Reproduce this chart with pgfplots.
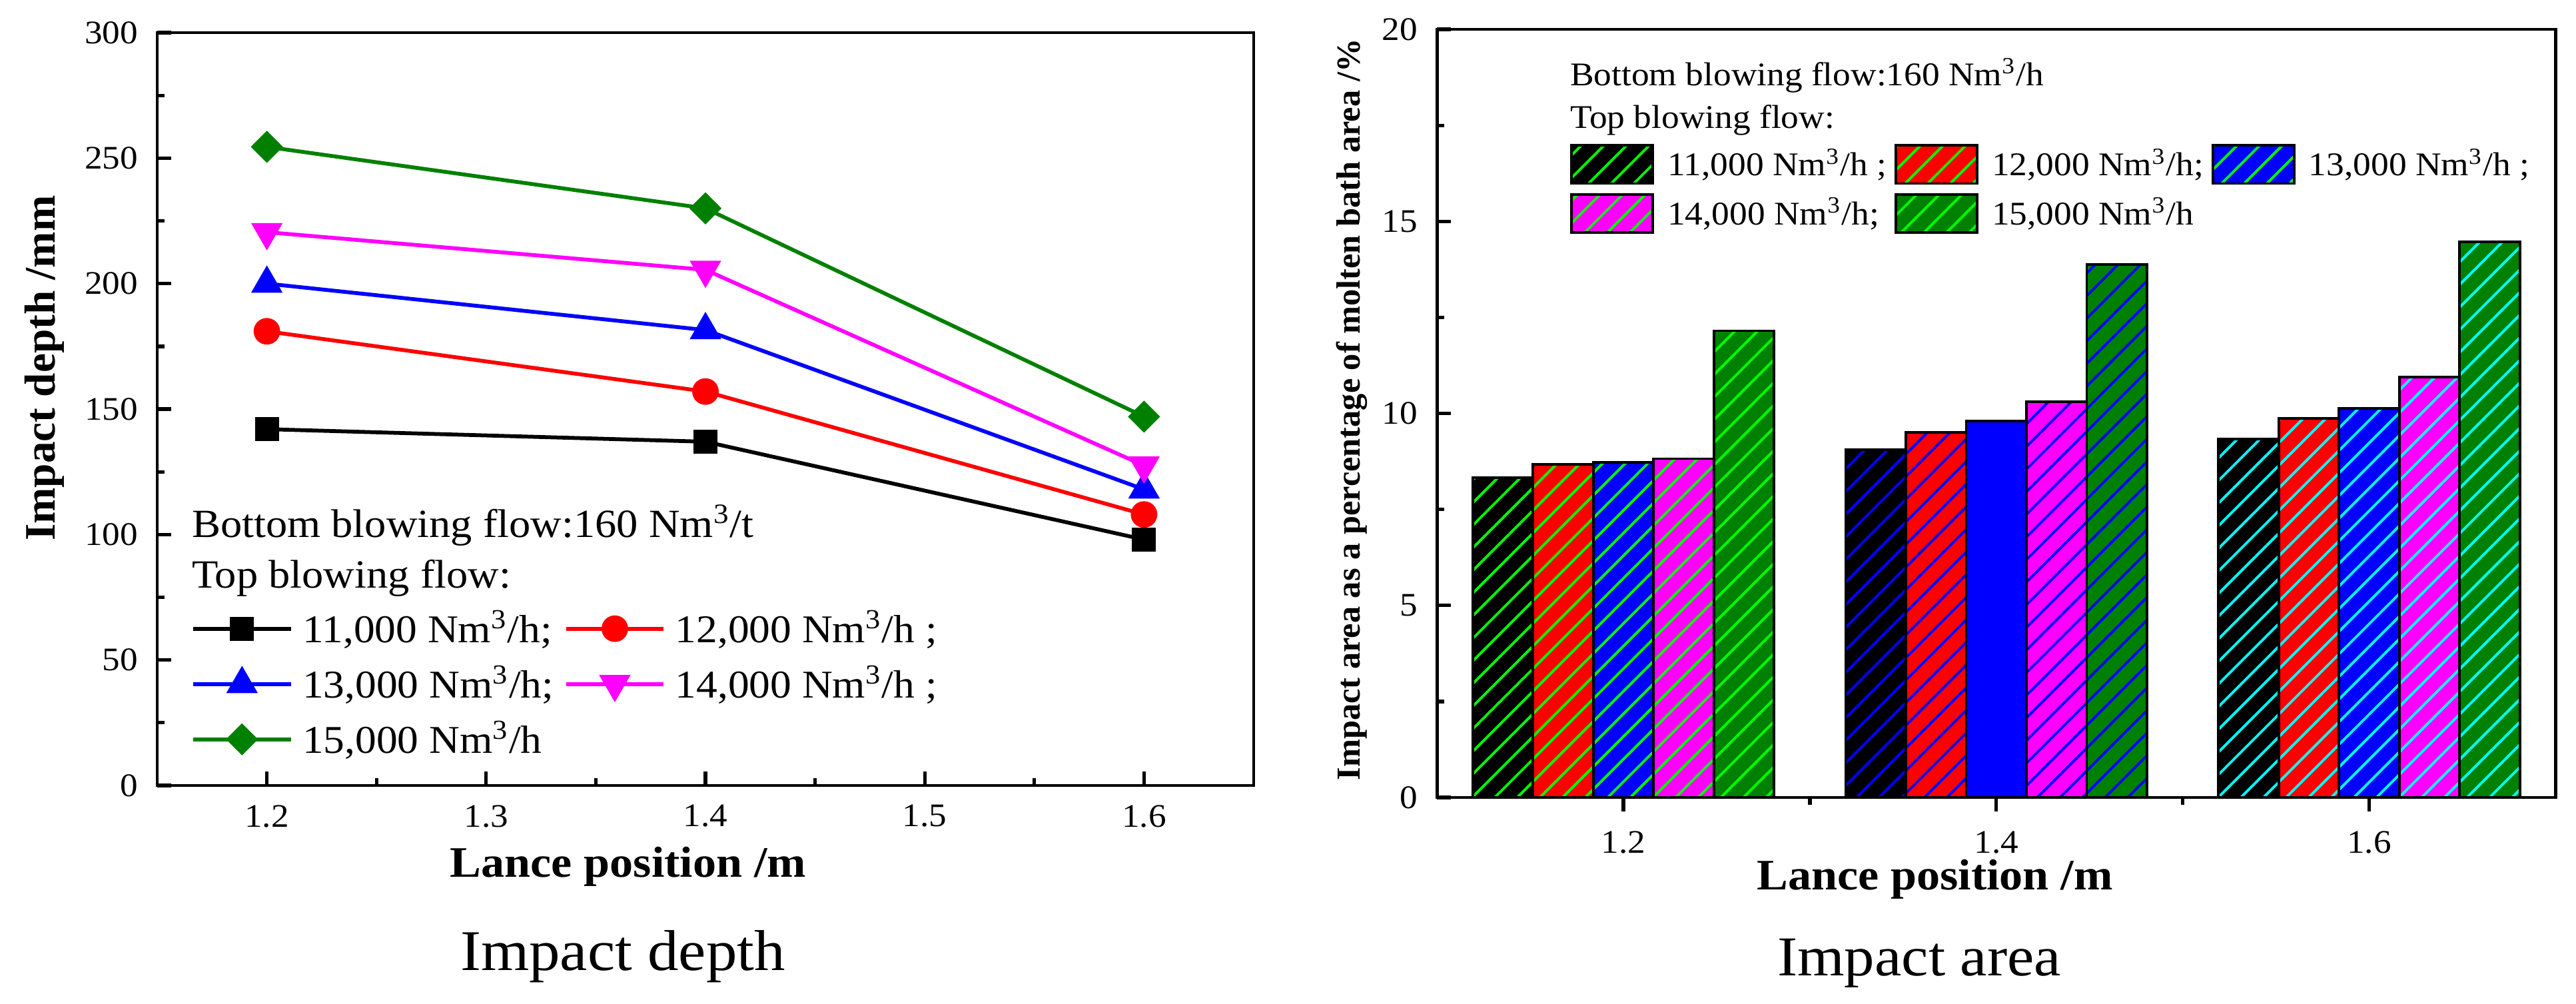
\documentclass[border=0pt]{standalone}
\usepackage{fontspec}
\setmainfont{Liberation Serif}[FakeStretch=1.075]
\newfontfamily\rotfont{Liberation Serif}
\usepackage{pgfplots}
\pgfplotsset{compat=1.18}
\usetikzlibrary{patterns.meta}
\definecolor{lgreen}{RGB}{0,255,0}
\definecolor{dgreen}{RGB}{0,128,0}
\definecolor{pblue}{RGB}{0,0,255}
\definecolor{pcyan}{RGB}{0,255,255}
\definecolor{pmag}{RGB}{255,0,255}
\definecolor{pred}{RGB}{255,0,0}
\tikzset{hatch/.style={postaction={pattern={Lines[angle=45,distance=5pt,line width=0.8pt]},pattern color=#1}}}
\pgfplotsset{
  common/.style={scale only axis, axis line style={line width=1pt}, tick align=inside, tick pos=left,
    major tick length=4.4pt, minor tick length=2.2pt, every tick/.style={line width=1.1pt, black},
    /pgf/number format/assume math mode=true,
    tick label style={font=\fontsize{10.3}{12}\selectfont, inner sep=0pt},
    xticklabel style={yshift=-5.9pt}, yticklabel style={xshift=-5.9pt}},
}
\begin{document}
\begin{tikzpicture}
\path[use as bounding box] (0,0) rectangle (805.6pt,313.75pt);
\begin{axis}[common, at={(49.17pt,68.13pt)}, anchor=south west, width=342.9pt, height=235.4pt,
  xmin=1.15, xmax=1.65, ymin=0, ymax=300, xtick={1.2,1.3,1.4,1.5,1.6}, ytick={0,50,...,300},
  minor x tick num=1, minor y tick num=1,
  xlabel={Lance position /m}, ylabel={Impact depth /mm},
  xlabel style={at={(axis description cs:0.4295,-0.1221)}, anchor=base, inner sep=0pt, font=\fontsize{13.6}{16}\selectfont\bfseries},
  ylabel style={at={(axis description cs:-0.0930,0.5544)}, anchor=base, inner sep=0pt, font=\rotfont\bfseries\fontsize{13.6}{16}\selectfont},
  legend style={draw=none, fill=none, at={(axis description cs:0.0304,0.2372)}, anchor=north west, inner sep=0pt,
    row sep=4.1pt, font=\fontsize{12.3}{15}\selectfont, nodes={inner sep=0pt, text height=11pt, text depth=2.2pt},
    /tikz/every odd column/.append style={column sep=3pt}, /tikz/every even column/.append style={column sep=3.2pt}},
  legend columns=2, legend cell align=left,
  legend image code/.code={\draw[mark repeat=2,mark phase=2,#1] plot coordinates {(0pt,0pt) (15.3pt,0pt) (30.6pt,0pt)};},
]
\addplot[black, line width=1.2pt, mark=square*, mark size=3.6pt, mark options={line width=0.3pt}] coordinates {(1.2,142) (1.4,137) (1.6,98)};
\addlegendentry{11,000 Nm\textsuperscript{3}/h;}
\addplot[pred, line width=1.2pt, mark=*, mark size=4pt, mark options={line width=0.3pt}] coordinates {(1.2,181) (1.4,157) (1.6,108)};
\addlegendentry{12,000 Nm\textsuperscript{3}/h ;}
\addplot[pblue, line width=1.2pt, mark=triangle*, mark size=5.4pt, mark options={line width=0.3pt}] coordinates {(1.2,200) (1.4,181.5) (1.6,118)};
\addlegendentry{13,000 Nm\textsuperscript{3}/h;}
\addplot[pmag, line width=1.2pt, mark=triangle*, mark size=5.4pt, mark options={line width=0.3pt, rotate=180}] coordinates {(1.2,220.5) (1.4,205.5) (1.6,127.5)};
\addlegendentry{14,000 Nm\textsuperscript{3}/h ;}
\addplot[dgreen, line width=1.2pt, mark=square*, mark size=3.4pt, mark options={line width=0.3pt, rotate=45}] coordinates {(1.2,254.5) (1.4,230) (1.6,147)};
\addlegendentry{15,000 Nm\textsuperscript{3}/h}
\node[anchor=base west, inner sep=0pt, font=\fontsize{12.5}{15}\selectfont] at (rel axis cs:0.031,0.3301) {Bottom blowing flow:160 Nm\textsuperscript{3}/t};
\node[anchor=base west, inner sep=0pt, font=\fontsize{12.5}{15}\selectfont] at (rel axis cs:0.031,0.2628) {Top blowing flow:};
\end{axis}

\begin{axis}[common, axis on top, at={(449.4pt,64.38pt)}, anchor=south west, width=349.8pt, height=240.2pt,
  xmin=-0.5, xmax=2.5, ymin=0, ymax=20, xtick={0,1,2}, xticklabels={1.2,1.4,1.6}, ytick={0,5,...,20},
  minor x tick num=1, minor y tick num=1,
  ybar, bar width=0.1617,
  xlabel={Lance position /m}, ylabel={Impact area as a percentage of molten bath area /\%},
  xlabel style={at={(axis description cs:0.445,-0.1203)}, anchor=base, inner sep=0pt, font=\fontsize{13.6}{16}\selectfont\bfseries},
  ylabel style={at={(axis description cs:-0.0691,0.5048)}, anchor=base, inner sep=0pt, font=\rotfont\bfseries\fontsize{10.5}{12}\selectfont},
  legend style={draw=none, fill=none, at={(axis description cs:0.1185,0.8517)}, anchor=north west, inner sep=0pt,
    row sep=2.6pt, font=\fontsize{10.35}{12}\selectfont, nodes={inner sep=0pt, text height=9pt, text depth=2pt},
    /tikz/every odd column/.append style={column sep=4.2pt}, /tikz/every even column/.append style={column sep=2.5pt}},
  legend columns=3, legend cell align=left,
  legend image code/.code={\draw[#1, draw=black, line width=0.8pt] (0pt,-6pt) rectangle (25.4pt,6pt);},
]
% group 1.2
\addplot[fill=black, draw=black, line width=0.8pt, bar shift=-0.3234, hatch=lgreen] coordinates {(0,8.32)};
\addlegendentry{11,000 Nm\textsuperscript{3}/h ;}
\addplot[fill=pred, draw=black, line width=0.8pt, bar shift=-0.1617, hatch=lgreen] coordinates {(0,8.68)};
\addlegendentry{12,000 Nm\textsuperscript{3}/h;}
\addplot[fill=pblue, draw=black, line width=0.8pt, bar shift=0, hatch=lgreen] coordinates {(0,8.73)};
\addlegendentry{13,000 Nm\textsuperscript{3}/h ;}
\addplot[fill=pmag, draw=black, line width=0.8pt, bar shift=0.1617, hatch=lgreen] coordinates {(0,8.82)};
\addlegendentry{14,000 Nm\textsuperscript{3}/h;}
\addplot[fill=dgreen, draw=black, line width=0.8pt, bar shift=0.3234, hatch=lgreen] coordinates {(0,12.15)};
\addlegendentry{15,000 Nm\textsuperscript{3}/h}
% group 1.4
\addplot[forget plot, fill=black, draw=black, line width=0.8pt, bar shift=-0.3234, hatch=pblue] coordinates {(1,9.05)};
\addplot[forget plot, fill=pred, draw=black, line width=0.8pt, bar shift=-0.1617, hatch=pblue] coordinates {(1,9.50)};
\addplot[forget plot, fill=pblue, draw=black, line width=0.8pt, bar shift=0, hatch=pblue] coordinates {(1,9.80)};
\addplot[forget plot, fill=pmag, draw=black, line width=0.8pt, bar shift=0.1617, hatch=pblue] coordinates {(1,10.30)};
\addplot[forget plot, fill=dgreen, draw=black, line width=0.8pt, bar shift=0.3234, hatch=pblue] coordinates {(1,13.88)};
% group 1.6
\addplot[forget plot, fill=black, draw=black, line width=0.8pt, bar shift=-0.3234, hatch=pcyan] coordinates {(2,9.33)};
\addplot[forget plot, fill=pred, draw=black, line width=0.8pt, bar shift=-0.1617, hatch=pcyan] coordinates {(2,9.87)};
\addplot[forget plot, fill=pblue, draw=black, line width=0.8pt, bar shift=0, hatch=pcyan] coordinates {(2,10.13)};
\addplot[forget plot, fill=pmag, draw=black, line width=0.8pt, bar shift=0.1617, hatch=pcyan] coordinates {(2,10.95)};
\addplot[forget plot, fill=dgreen, draw=black, line width=0.8pt, bar shift=0.3234, hatch=pcyan] coordinates {(2,14.47)};
\node[anchor=base west, inner sep=0pt, font=\fontsize{10.35}{12}\selectfont] at (rel axis cs:0.1185,0.9271) {Bottom blowing flow:160 Nm\textsuperscript{3}/h};
\node[anchor=base west, inner sep=0pt, font=\fontsize{10.35}{12}\selectfont] at (rel axis cs:0.1185,0.8716) {Top blowing flow:};
\end{axis}
\node[anchor=base, inner sep=0pt, font=\fontsize{18}{20}\selectfont] at (194.8pt,10.4pt) {Impact depth};
\node[anchor=base, inner sep=0pt, font=\fontsize{17.6}{20}\selectfont] at (600.2pt,8.75pt) {Impact area};
\end{tikzpicture}
\end{document}
